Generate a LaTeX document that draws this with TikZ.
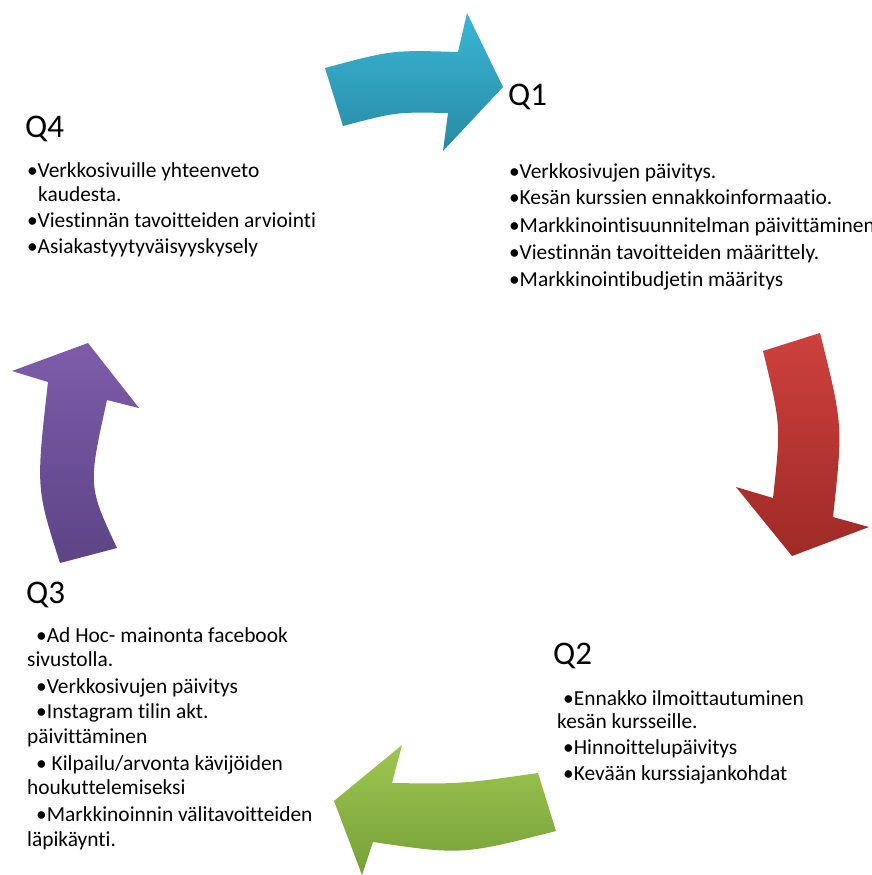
\documentclass[tikz,border=0pt]{standalone}
\usepackage{fontspec}
\setmainfont{Carlito}[Ligatures=NoCommon]
\definecolor{bluetop}{RGB}{58,182,214}
\definecolor{bluebot}{RGB}{40,138,164}
\definecolor{redtop}{RGB}{205,65,62}
\definecolor{redbot}{RGB}{158,42,38}
\definecolor{greentop}{RGB}{158,199,80}
\definecolor{greenbot}{RGB}{118,160,56}
\definecolor{purpletop}{RGB}{126,92,170}
\definecolor{purplebot}{RGB}{92,68,134}
\tikzset{
  qttl/.style={font=\fontsize{33}{38}\selectfont, inner sep=0pt, anchor=base west},
  itm/.style={font=\fontsize{21.4}{25}\selectfont, inner sep=0pt, anchor=base west},
  cyclearrow/.style={draw=none},
}
\newcommand{\hb}{\makebox[10.5pt][l]{•}}
\newcommand{\ib}{•}
\newcommand{\ItemRows}[2]{%
  \foreach \rx/\ry/\rowtext [count=\i] in {#2} {
    \node[itm] (#1\i) at (\rx,\ry) {\rowtext};
  }
}

\begin{document}
\begin{tikzpicture}[x=1pt, y=-1pt]
  \useasboundingbox (0,0) rectangle (872,875);
  % arrows
  \shade[cyclearrow, top color=bluetop, bottom color=bluebot]
    (325,68) .. controls (392,50) .. (458,52) -- (467,13) -- (503,87) -- (443,151)
    -- (448,113) .. controls (396,112) .. (343,126) -- cycle;
  \shade[cyclearrow, top color=redtop, bottom color=redbot]
    (763,351) -- (820,333) .. controls (843,425) .. (833,517) -- (869,527) -- (792,556)
    -- (736,487) -- (773,498) .. controls (781,425) .. (763,351) -- cycle;
  \shade[cyclearrow, top color=greentop, bottom color=greenbot]
    (538,773) .. controls (461,784) .. (392,783) -- (402,745) -- (334,801) -- (362,875)
    -- (373,842) .. controls (462,855) .. (556,831) -- cycle;
  \shade[cyclearrow, top color=purpletop, bottom color=purplebot]
    (60,563) .. controls (36,488) .. (48,382) -- (12,371) -- (88,343) -- (139,408)
    -- (107,400) .. controls (88,486) .. (117,548) -- cycle;

  % Q1
  \node[qttl] (Q1tit) at (508,105) {Q1};
  \ItemRows{Q1r}{509/178/{\hb Verkkosivujen päivitys.},
    509/204/{\hb Kesän kurssien ennakkoinformaatio.},
    509/232/{\hb Markkinointisuunnitelman päivittäminen},
    509/259/{\hb Viestinnän tavoitteiden määrittely.},
    509/286/{\hb Markkinointibudjetin määritys}}
  % Q2
  \node[qttl] (Q2tit) at (553,664) {Q2};
  \ItemRows{Q2r}{563/705/{\ib Ennakko ilmoittautuminen},
    557/728/{kesän kursseille.},
    563/754/{\ib Hinnoittelupäivitys},
    563/780/{\ib Kevään kurssiajankohdat}}
  % Q3
  \node[qttl] (Q3tit) at (26,603) {Q3};
  \ItemRows{Q3r}{36/642/{\ib Ad Hoc- mainonta facebook},
    27/666/{sivustolla.},
    36/693/{\ib Verkkosivujen päivitys},
    36/718/{\ib Instagram tilin akt.},
    27/743/{päivittäminen},
    36/770/{\ib{} Kilpailu/arvonta kävijöiden},
    27/794/{houkuttelemiseksi},
    36/821/{\ib Markkinoinnin välitavoitteiden},
    27/846/{läpikäynti.}}
  % Q4
  \node[qttl] (Q4tit) at (25,137) {Q4};
  \ItemRows{Q4r}{27/177/{\hb Verkkosivuille yhteenveto},
    38/201/{kaudesta.},
    27/227/{\hb Viestinnän tavoitteiden arviointi},
    27/253/{\hb Asiakastyytyväisyyskysely}}
\end{tikzpicture}
\end{document}
